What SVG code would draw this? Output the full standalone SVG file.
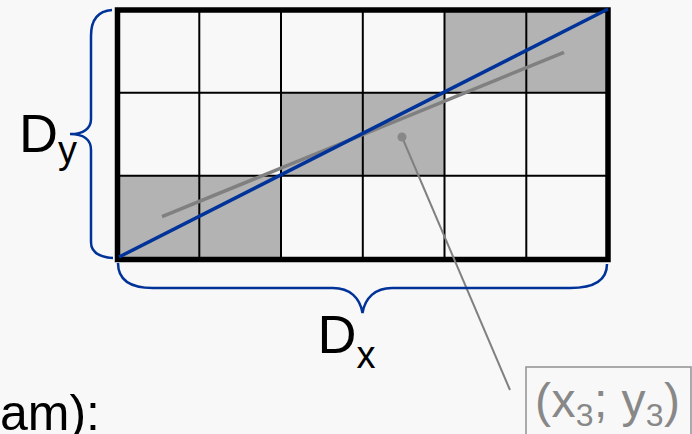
<svg xmlns="http://www.w3.org/2000/svg" width="692" height="434" viewBox="0 0 692 434">
<style>
.cell{fill:#b3b3b3;stroke:none}
.gl{stroke:#000;stroke-width:2;fill:none}
.brace{fill:none;stroke:#003399;stroke-width:2.5}
.t{font-family:"Liberation Sans",Arial,sans-serif;fill:#000}
.lab{font-family:"Liberation Sans",Arial,sans-serif;fill:#888}
</style>
<rect x="0" y="0" width="692" height="434" fill="#f8f8f8"/>
<g id="grid">
<rect class="cell" x="444.5" y="10" width="163.5" height="82.7"/>
<rect class="cell" x="281" y="92.7" width="163.5" height="83"/>
<rect class="cell" x="117.5" y="175.7" width="163.5" height="83.8"/>
<path class="gl" d="M199.3,10V259.5M281,10V259.5M362.8,10V259.5M444.5,10V259.5M526.3,10V259.5M117.5,92.7H608M117.5,175.7H608"/>
<rect x="117.5" y="10" width="490.5" height="249.5" fill="none" stroke="#000" stroke-width="5.5"/>
</g>
<g id="connectors">
<line x1="162" y1="216.7" x2="564" y2="52.3" stroke="#808080" stroke-width="3.5"/>
<line x1="119" y1="257" x2="608" y2="9" stroke="#003399" stroke-width="3.5"/>
<line x1="402" y1="137" x2="510" y2="390" stroke="#808080" stroke-width="2"/>
<circle cx="402" cy="137" r="4.5" fill="#888"/>
</g>
<g id="brace-y">
<path class="brace" d="M112,10C97,11 91,20 91,36L91,119C91,128 84,134 70,134C84,134 91,140 91,150L91,242C91,251 97,257 113,258"/>
<text class="t" x="19" y="152" font-size="54">D<tspan font-size="38" dy="11">y</tspan></text>
</g>
<g id="brace-x">
<path class="brace" d="M118,263C118,280 130,288 153,288L333,288C350,288 360,298 362.5,313C365,298 375,288 392,288L570,288C595,288 607,280 607,264"/>
<text class="t" x="317.5" y="353" font-size="54">D<tspan font-size="38" dy="15">x</tspan></text>
</g>
<g id="label">
<rect x="526" y="367" width="165" height="80" fill="none" stroke="#909090" stroke-width="1.5"/>
<text class="lab" x="535" y="417" font-size="48" textLength="145" lengthAdjust="spacing">(x<tspan font-size="32" dy="9">3</tspan><tspan dy="-9">; y</tspan><tspan font-size="32" dy="9">3</tspan><tspan dy="-9">)</tspan></text>
</g>
<text class="t" x="100" y="430" font-size="50" text-anchor="end">am):</text>
</svg>
